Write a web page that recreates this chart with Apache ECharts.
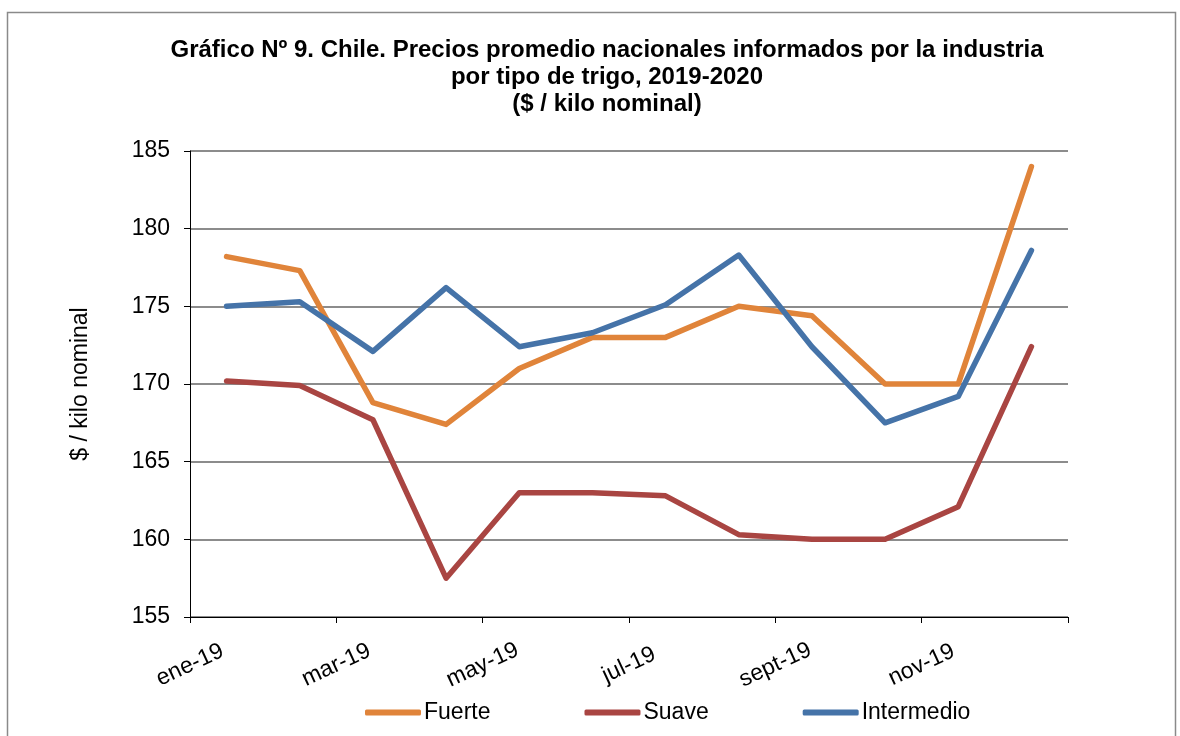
<!DOCTYPE html>
<html>
<head>
<meta charset="utf-8">
<script src="https://cdn.jsdelivr.net/npm/echarts@6/dist/echarts.min.js"></script>
<style>
  html, body { margin: 0; padding: 0; background: #fff; }
  #chart { width: 1180px; height: 736px; }
</style>
</head>
<body>
<div id="chart"></div>
<script>
// meses (un punto por mes)
const months = ['ene-19', 'feb-19', 'mar-19', 'abr-19', 'may-19', 'jun-19',
  'jul-19', 'ago-19', 'sept-19', 'oct-19', 'nov-19', 'dic-19']
// etiquetas visibles del eje x (cada dos meses)
const tickLabels = ['ene-19', 'mar-19', 'may-19', 'jul-19', 'sept-19', 'nov-19']

const fuerte = [178.2, 177.3, 168.8, 167.4, 171.0, 173.0, 173.0, 175.0, 174.4, 170.0, 170.0, 184.0]
const suave = [170.2, 169.9, 167.7, 157.5, 163.0, 163.0, 162.8, 160.3, 160.0, 160.0, 162.1, 172.4]
const intermedio = [175.0, 175.3, 172.1, 176.2, 172.4, 173.3, 175.1, 178.3, 172.4, 167.5, 169.2, 178.6]

const font = "'Liberation Sans', Arial, sans-serif"

const lineSeries = (name, data, color) => ({
  name,
  type: 'line',
  data,
  xAxisIndex: 0,
  symbol: 'none',
  lineStyle: { width: 5.5, color, cap: 'round', join: 'round' },
  itemStyle: { color },
  emphasis: { disabled: true }
})

const chart = echarts.init(document.getElementById('chart'))
chart.setOption({
  animation: false,
  textStyle: { fontFamily: font },
  graphic: [{
    type: 'rect',
    shape: { x: 7.5, y: 12.5, width: 1168, height: 740 },
    style: { fill: 'none', stroke: '#8a8a8a', lineWidth: 1.5 },
    silent: true
  }],
  title: {
    text: 'Gráfico Nº 9. Chile. Precios promedio nacionales informados por la industria\npor tipo de trigo, 2019-2020\n($ / kilo nominal)',
    left: 602,
    textAlign: 'center',
    top: 32,
    textStyle: {
      fontFamily: font,
      fontWeight: 'bold',
      fontSize: 24,
      lineHeight: 27,
      color: '#000'
    }
  },
  legend: {
    bottom: 7,
    left: 360,
    itemWidth: 56,
    itemHeight: 6,
    itemGap: 94,
    icon: 'roundRect',
    textStyle: { fontFamily: font, fontSize: 23, color: '#000', padding: [0, 0, 0, -2] },
    data: ['Fuerte', 'Suave', 'Intermedio']
  },
  grid: { left: 190, right: 112, top: 151, bottom: 119 },
  xAxis: [{
    type: 'category',
    data: months,
    boundaryGap: true,
    show: false
  }, {
    type: 'value',
    position: 'bottom',
    min: 0,
    max: 12,
    interval: 2,
    axisLine: { show: true, lineStyle: { color: '#000', width: 1 } },
    axisTick: { show: true, length: 6, lineStyle: { color: '#000' } },
    splitLine: { show: false },
    axisLabel: {
      rotate: 25,
      align: 'center',
      verticalAlign: 'middle',
      margin: 48,
      fontSize: 23,
      color: '#000',
      fontFamily: font,
      showMaxLabel: true,
      formatter: v => tickLabels[v / 2] || ''
    }
  }],
  yAxis: {
    type: 'value',
    min: 155,
    max: 185,
    interval: 5,
    name: '$ / kilo nominal',
    nameLocation: 'middle',
    nameGap: 98,
    nameTextStyle: { fontFamily: font, fontSize: 23, color: '#000' },
    axisLine: { show: true, lineStyle: { color: '#000', width: 1 } },
    axisTick: { show: true, length: 6, lineStyle: { color: '#000' } },
    axisLabel: { fontSize: 23, color: '#000', margin: 20, fontFamily: font },
    splitLine: { lineStyle: { color: '#8c8c8c', width: 2 } }
  },
  series: [
    lineSeries('Fuerte', fuerte, '#E0843A'),
    lineSeries('Suave', suave, '#A94542'),
    lineSeries('Intermedio', intermedio, '#4573A8')
  ]
})
</script>
</body>
</html>
